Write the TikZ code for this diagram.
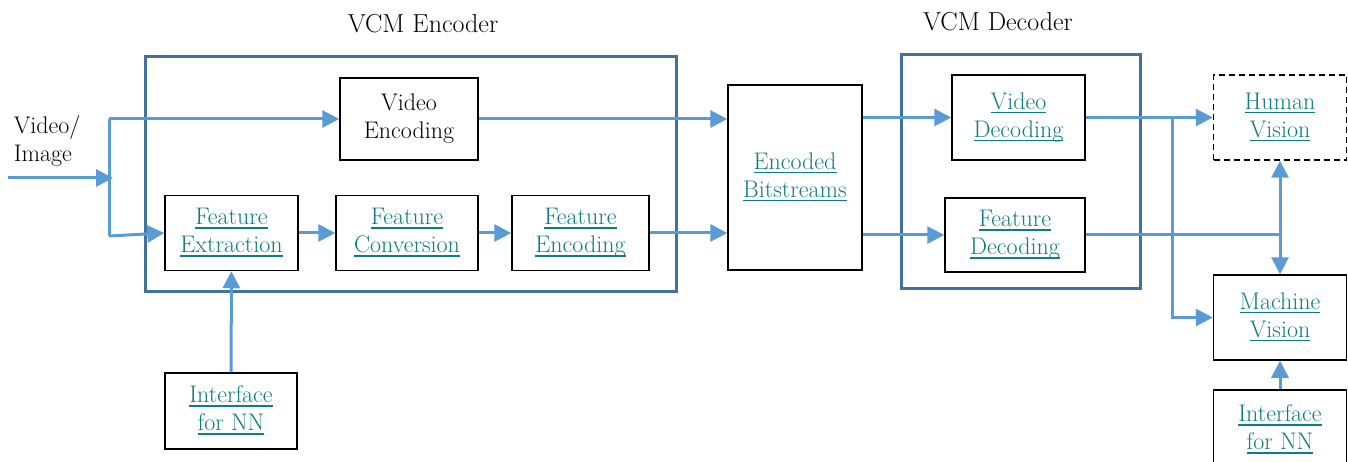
\documentclass[tikz,border=0pt]{standalone}
\usepackage{tikz}
\usetikzlibrary{arrows.meta}
\definecolor{flowblue}{RGB}{91,155,213}
\definecolor{groupblue}{RGB}{65,113,156}
\definecolor{linkteal}{RGB}{15,125,125}
\newcommand{\lnk}[1]{\textcolor{linkteal}{\setbox0\hbox{#1}\rlap{\rule[-4pt]{\wd0}{1.4pt}}\box0}\strut}

\begin{document}
\begin{tikzpicture}[x=1pt, y=-1pt]
    % Define styles for all nodes and edges
    \tikzstyle{block} = [draw, line width=1.5pt, align=center, inner sep=0pt, font=\fontsize{24}{28}\selectfont]
    \tikzstyle{group} = [draw=groupblue, line width=3pt]
    \tikzstyle{title} = [font=\fontsize{26}{30}\selectfont]
    \tikzstyle{flow} = [draw=flowblue, line width=3pt, -{Triangle[length=17pt, width=17pt]}]
    \tikzstyle{wire} = [draw=flowblue, line width=3pt]

    \useasboundingbox (0,0) rectangle (1348,462);

    % Groups
    \draw[group] (145,57) rectangle (676,291);
    \draw[group] (901,55) rectangle (1140,288);
    \node[title] (enctitle) at (423,24) {VCM Encoder};
    \node[title] (dectitle) at (998,22) {VCM Decoder};

    % Nodes
    \node[block, anchor=west, draw=none, align=left] (input) at (13,142) {Video/\strut\\Image\strut};
    \node[block, minimum width=138pt, minimum height=82pt] (venc) at (409,119) {Video\strut\\Encoding\strut};
    \node[block, minimum width=133pt, minimum height=75pt] (fext) at (231.5,233) {\lnk{Feature}\\\lnk{Extraction}};
    \node[block, minimum width=142pt, minimum height=75pt] (fconv) at (407,233) {\lnk{Feature}\\\lnk{Conversion}};
    \node[block, minimum width=137pt, minimum height=75pt] (fenc) at (580.5,233) {\lnk{Feature}\\\lnk{Encoding}};
    \node[block, minimum width=132pt, minimum height=76pt] (ifleft) at (231,411) {\lnk{Interface}\\\lnk{for NN}};
    \node[block, minimum width=134pt, minimum height=185pt] (bits) at (795,177.5) {\lnk{Encoded}\\\lnk{Bitstreams}};
    \node[block, minimum width=133pt, minimum height=85pt] (vdec) at (1018.5,117.5) {\lnk{Video}\\\lnk{Decoding}};
    \node[block, minimum width=140pt, minimum height=74pt] (fdec) at (1015,235) {\lnk{Feature}\\\lnk{Decoding}};
    \node[block, dash pattern=on 6pt off 4pt, minimum width=133pt, minimum height=85pt] (human) at (1280,117.5) {\lnk{Human}\\\lnk{Vision}};
    \node[block, minimum width=133pt, minimum height=85pt] (machine) at (1280,317.5) {\lnk{Machine}\\\lnk{Vision}};
    \node[block, minimum width=133pt, minimum height=80pt] (ifright) at (1280,430) {\lnk{Interface}\\\lnk{for NN}};

    % Junctions
    \coordinate (src) at (8,178);
    \coordinate (split) at (109,178);
    \coordinate (tap) at (1172,118);
    \coordinate (meet) at (fdec.east -| human.south);

    % Edges with arrows
    \draw[flow] (src) -- ([xshift=4pt]split);
    \draw[wire] (split |- venc.west) -- (109,236);
    \draw[flow] (split |- venc.west) -- (venc.west);
    \draw[flow] (109,236) -- (fext.west);
    \draw[flow] (fext) -- (fconv);
    \draw[flow] (fconv) -- (fenc);
    \draw[flow] (ifleft) -- (fext);
    \draw[flow] (venc.east) -- (venc.east -| bits.west);
    \draw[flow] (fenc.east) -- (fenc.east -| bits.west);
    \draw[flow] (vdec.west -| bits.east) -- (vdec.west);
    \draw[flow] (fdec.west -| bits.east) -- (fdec.west);
    \draw[flow] (vdec.east) -- (human.west);
    \draw[flow] (tap) |- (machine.west);
    \draw[wire] (fdec.east) -- (meet);
    \draw[flow] (meet) -- (human.south);
    \draw[flow] (meet) -- (machine.north);
    \draw[flow] (ifright) -- (machine);
\end{tikzpicture}
\end{document}
